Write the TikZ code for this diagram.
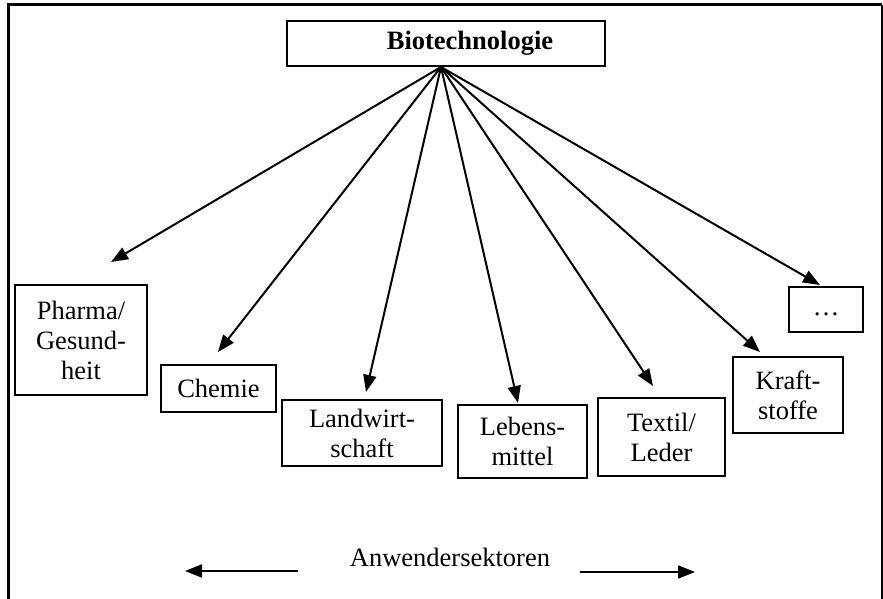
\documentclass[tikz,border=0pt]{standalone}
\usepackage{fontspec}
\setmainfont{Liberation Serif}
\usetikzlibrary{arrows.meta}
\begin{document}
\begin{tikzpicture}[x=1pt,y=-1pt,
  box/.style={draw, line width=2pt, inner sep=0pt, align=center, font=\fontsize{26.5}{30}\selectfont},
  arr/.style={line width=2pt, -{Triangle[length=17pt,width=13pt]}},
  lbl/.style={font=\fontsize{26.5}{30}\selectfont}]
\useasboundingbox (0,0) rectangle (883,599);
% frame
\draw[line width=3pt] (8,599) -- (8,5) -- (882,5);
\draw[line width=2pt] (882,5) -- (882,599);
% boxes
\node[box, minimum width=318, minimum height=45] (bio) at (446,43.5) {};
\node[lbl, font=\fontsize{26.5}{30}\selectfont\bfseries] (biotxt) at (470,43) {Biotechnologie};
\node[box, minimum width=132, minimum height=110] (pharma) at (81,340) {Pharma/\\Gesund-\\heit};
\node[box, minimum width=115, minimum height=47] (chemie) at (218.5,388.5) {Chemie};
\node[box, minimum width=160, minimum height=66] (land) at (362,433) {Landwirt-\\schaft};
\node[box, minimum width=129, minimum height=73] (leb) at (522.5,441.5) {Lebens-\\mittel};
\node[box, minimum width=127, minimum height=78] (textil) at (661.5,437) {Textil/\\Leder};
\node[box, minimum width=110, minimum height=76] (kraft) at (788,395) {Kraft-\\stoffe};
\node[box, minimum width=74, minimum height=45] (dots) at (826,309.5) {\strut\dots};
% arrow ends
\coordinate (src) at (441,67);
\coordinate (tPharma) at (111,262);
\coordinate (tChemie) at (218,352);
\coordinate (tLand) at (366,392);
\coordinate (tLeb) at (518,403);
\coordinate (tTextil) at (653,386);
\coordinate (tKraft) at (760,352);
\coordinate (tDots) at (820,285);
\foreach \t in {tPharma,tChemie,tLand,tLeb,tTextil,tKraft,tDots}
  \draw[arr] (src) -- (\t);
% bottom
\node[lbl] (sek) at (450,557) {Anwendersektoren};
\coordinate (la1) at (298,571);
\coordinate (la2) at (185,571);
\coordinate (ra1) at (580,572);
\coordinate (ra2) at (695,572);
\draw[arr] (la1) -- (la2);
\draw[arr] (ra1) -- (ra2);
\end{tikzpicture}
\end{document}
